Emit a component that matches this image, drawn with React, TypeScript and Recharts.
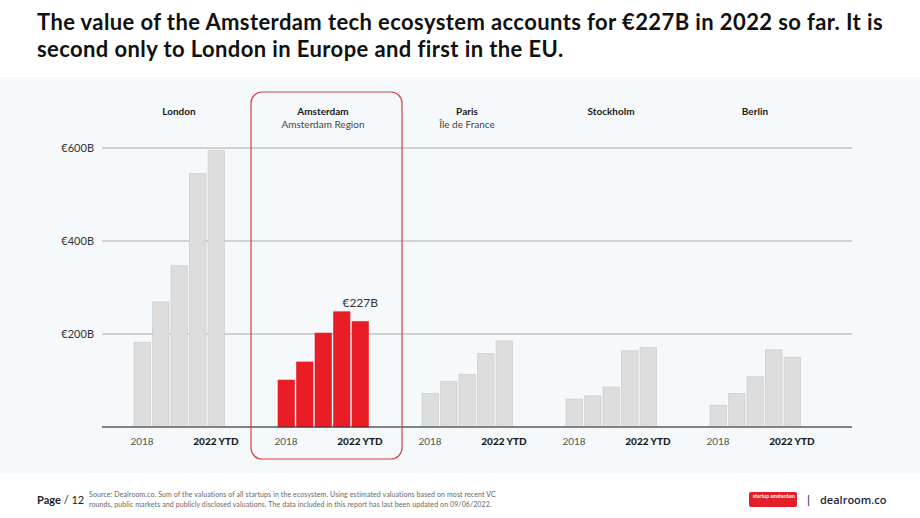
import React from 'react';
import { BarChart, Bar, XAxis, YAxis, CartesianGrid, Cell, LabelList } from 'recharts';

// Ecosystem value (€B) per city, one array per year
const cities = ['London', 'Amsterdam', 'Paris', 'Stockholm', 'Berlin'];
const regions = ['', 'Amsterdam Region', 'Île de France', '', ''];
const years = ['2018', '2019', '2020', '2021', '2022 YTD'];
const v2018 = [182, 101, 72, 60, 47];
const v2019 = [269, 140, 98, 67, 72];
const v2020 = [347, 202, 113, 86, 108];
const v2021 = [545, 248, 158, 164, 166];
const v2022 = [595, 227, 185, 171, 150];
const yTicks = [0, 200, 400, 600];

const seriesValues = [v2018, v2019, v2020, v2021, v2022];
const seriesKeys = ['y2018', 'y2019', 'y2020', 'y2021', 'y2022'];

const data = cities.map((city, i) => {
    const row: Record<string, string | number> = { city, region: regions[i] };
    seriesKeys.forEach((k, s) => {
        row[k] = seriesValues[s][i];
    });
    return row;
});

const HIGHLIGHT = 'Amsterdam';
const RED = '#e91d25';
const GREY = '#dddddd';
const FONT = 'Lato, "Noto Sans", sans-serif';

const BAR_SIZE = 16.5;
const BAR_GAP = 2;
const STEP = BAR_SIZE + BAR_GAP;

const CityTick = (props: any) => {
    const { x, y, payload, index } = props;
    return (
        <g>
            <text x={x} y={y - 33} textAnchor="middle" fontSize={10} fontWeight={700} fill="#1a1a1a" fontFamily={FONT}>
                {payload.value}
            </text>
            {regions[index] ? (
                <text x={x} y={y - 20} textAnchor="middle" fontSize={10} fill="#444" fontFamily={FONT}>
                    {regions[index]}
                </text>
            ) : null}
        </g>
    );
};

const YearTick = (props: any) => {
    const { x, y, payload } = props;
    const half = (years.length - 1) / 2;
    return (
        <g>
            {payload.value === HIGHLIGHT ? (
                <rect x={x - 72} y={y - 335} width={151} height={367} rx={11} fill="none" stroke="#d8404a" strokeWidth={1.2} />
            ) : null}
            <text x={x - half * STEP} y={y + 18} textAnchor="middle" fontSize={10} fill="#555" fontFamily={FONT}>
                {years[0]}
            </text>
            <text x={x + half * STEP} y={y + 18} textAnchor="middle" fontSize={10} fontWeight={900} fill="#1a1a1a" fontFamily={FONT}>
                {years[years.length - 1]}
            </text>
        </g>
    );
};

const HighlightLabel = (props: any) => {
    const { x, y, width, value, index } = props;
    if (cities[index] !== HIGHLIGHT) return null;
    return (
        <text x={x + width / 2} y={y - 14} textAnchor="middle" fontSize={12} fill="#333" fontFamily={FONT}>
            {`€${value}B`}
        </text>
    );
};

export default function App() {
    return (
        <div style={{ position: 'absolute', left: 0, top: 0, width: 920, height: 518, background: '#fff', fontFamily: FONT, overflow: 'hidden' }}>
            <div style={{ position: 'absolute', left: 37, top: 8, width: 880, fontSize: 22, lineHeight: '27px', letterSpacing: 0.4, fontWeight: 700, color: '#111', whiteSpace: 'nowrap' }}>
                The value of the Amsterdam tech ecosystem accounts for €227B in 2022 so far. It is
                <br />
                second only to London in Europe and first in the EU.
            </div>

            <div style={{ position: 'absolute', left: 0, top: 77, width: 920, height: 396, background: '#f6f9fc' }}>
                <BarChart
                    width={920}
                    height={396}
                    data={data}
                    margin={{ top: 21, right: 68, bottom: 16, left: 0 }}
                    barSize={BAR_SIZE}
                    barGap={BAR_GAP}
                >
                    <CartesianGrid horizontal vertical={false} stroke="#aaaaaa" />
                    <XAxis
                        xAxisId="top"
                        orientation="top"
                        dataKey="city"
                        height={50}
                        axisLine={false}
                        tickLine={false}
                        tickSize={0}
                        tickMargin={0}
                        padding={{ left: 5, right: 25 }}
                        tick={<CityTick />}
                        interval={0}
                    />
                    <XAxis
                        dataKey="city"
                        height={30}
                        axisLine={{ stroke: '#333', strokeWidth: 1 }}
                        tickLine={false}
                        tickSize={0}
                        tickMargin={0}
                        padding={{ left: 5, right: 25 }}
                        tick={<YearTick />}
                        interval={0}
                    />
                    <YAxis
                        width={102}
                        domain={[0, 600]}
                        ticks={yTicks}
                        axisLine={false}
                        tickLine={false}
                        tickSize={0}
                        tickMargin={8}
                        tick={{ fontSize: 11, fill: '#333', fontFamily: FONT }}
                        tickFormatter={(v: number) => (v === 0 ? '' : `€${v}B`)}
                    />
                    {seriesKeys.map((key, s) => (
                        <Bar key={key} dataKey={key} name={years[s]} isAnimationActive={false}>
                            {cities.map((c) => (
                                <Cell
                                    key={c}
                                    fill={c === HIGHLIGHT ? RED : GREY}
                                    stroke={c === HIGHLIGHT ? RED : '#c6c6c6'}
                                    strokeWidth={0.6}
                                />
                            ))}
                            {s === seriesKeys.length - 1 ? (
                                <LabelList dataKey={key} content={<HighlightLabel />} />
                            ) : null}
                        </Bar>
                    ))}
                </BarChart>
            </div>

            <div style={{ position: 'absolute', left: 37, top: 493, fontSize: 11, color: '#222' }}>
                <span style={{ fontWeight: 700 }}>Page</span> / 12
            </div>
            <div style={{ position: 'absolute', left: 89, top: 489, fontSize: 7, lineHeight: '10px', letterSpacing: 0.1, color: '#666', whiteSpace: 'nowrap' }}>
                Source: Dealroom.co. Sum of the valuations of all startups in the ecosystem. Using estimated valuations based on most recent VC
                <br />
                rounds, public markets and publicly disclosed valuations. The data included in this report has last been updated on 09/06/2022.
            </div>
            <div
                style={{
                    position: 'absolute', left: 749, top: 492, width: 48, height: 15, background: '#e3202a', borderRadius: 2,
                    color: '#fff', fontSize: 5, lineHeight: '5px', fontWeight: 700, padding: '2px 0 0 4px', boxSizing: 'border-box',
                }}
            >
                startup amsterdam
            </div>
            <div style={{ position: 'absolute', left: 807, top: 492, fontSize: 12, color: '#1e2540' }}>|</div>
            <div style={{ position: 'absolute', left: 820, top: 492, fontSize: 11, fontWeight: 600, color: '#1e2540', fontFamily: '"Open Sans", sans-serif' }}>
                dealroom.co
            </div>
        </div>
    );
}
